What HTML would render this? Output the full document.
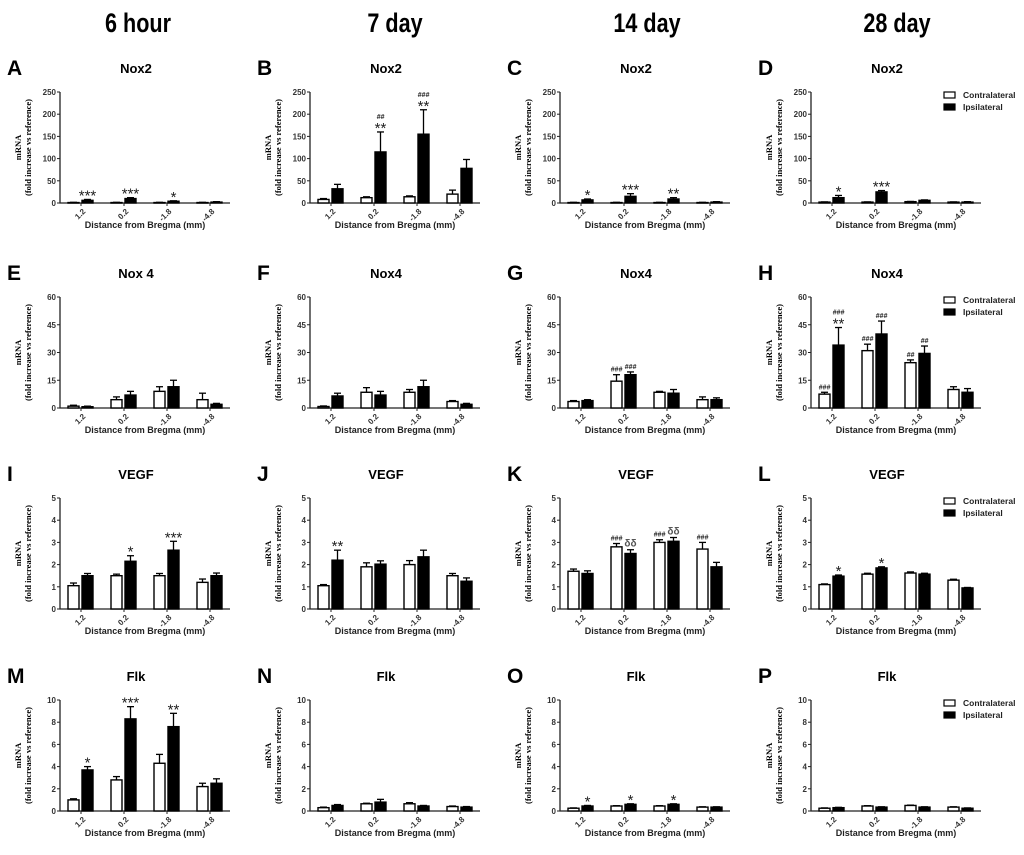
<!DOCTYPE html>
<html><head><meta charset="utf-8">
<style>
html,body{margin:0;padding:0;background:#fff;}
svg{display:block;}
text{font-family:"Liberation Sans",sans-serif;}
</style></head>
<body>
<svg id="fig" width="1024" height="855" viewBox="0 0 1024 855" xmlns="http://www.w3.org/2000/svg"></svg>
<script>
// ---- data ----
const categories = ["1.2","0.2","-1.8","-4.8"];
const columnHeaders = ["6 hour","7 day","14 day","28 day"];
const nox2Ticks = [0,50,100,150,200,250];
const nox4Ticks = [0,15,30,45,60];
const vegfTicks = [0,1,2,3,4,5];
const flkTicks = [0,2,4,6,8,10];

const aContra = [1,1,1,1];        const aContraErr = [0.5,0.5,0.5,0.5];
const aIpsi = [6,10,4,2];         const aIpsiErr = [2,2,1,1];
const bContra = [8,12,14,20];     const bContraErr = [2,2,2,9];
const bIpsi = [32,115,155,78];    const bIpsiErr = [10,45,55,20];
const cContra = [1,1,1,1];        const cContraErr = [0.5,0.5,0.5,0.5];
const cIpsi = [7,15,9,2];         const cIpsiErr = [2,6,3,1];
const dContra = [2,2,3,2];        const dContraErr = [0.5,0.5,0.5,0.5];
const dIpsi = [12,25,6,2];        const dIpsiErr = [5,3,1,1];

const eContra = [1,4.5,9,4.5];    const eContraErr = [0.5,1.5,2.5,3.5];
const eIpsi = [0.7,7,11.5,2];     const eIpsiErr = [0.3,2,3.5,0.5];
const fContra = [0.8,8.5,8.5,3.5];const fContraErr = [0.3,2.5,1.5,0.5];
const fIpsi = [6.5,7,11.5,2];     const fIpsiErr = [1.5,2,3.5,0.5];
const gContra = [3.5,14.5,8.5,4.5];const gContraErr = [0.5,3.5,0.5,1.5];
const gIpsi = [4,18,8,4.5];       const gIpsiErr = [0.5,1.5,2,1];
const hContra = [7.5,31,24.5,10]; const hContraErr = [1,3.5,1.5,1.5];
const hIpsi = [34,40,29.5,8.5];   const hIpsiErr = [9.5,7,4,2];

const iContra = [1.05,1.5,1.5,1.2];  const iContraErr = [0.12,0.07,0.1,0.15];
const iIpsi = [1.5,2.15,2.65,1.5];   const iIpsiErr = [0.1,0.25,0.4,0.12];
const jContra = [1.05,1.9,2.0,1.5];  const jContraErr = [0.05,0.18,0.18,0.1];
const jIpsi = [2.2,2.02,2.35,1.25];  const jIpsiErr = [0.45,0.15,0.3,0.15];
const kContra = [1.7,2.8,3.0,2.7];   const kContraErr = [0.1,0.15,0.12,0.3];
const kIpsi = [1.6,2.5,3.05,1.9];    const kIpsiErr = [0.12,0.17,0.17,0.2];
const lContra = [1.1,1.57,1.62,1.3]; const lContraErr = [0.03,0.04,0.05,0.04];
const lIpsi = [1.48,1.85,1.57,0.95]; const lIpsiErr = [0.05,0.05,0.04,0.02];

const mContra = [1.0,2.8,4.3,2.2];   const mContraErr = [0.1,0.3,0.8,0.3];
const mIpsi = [3.7,8.3,7.6,2.5];     const mIpsiErr = [0.3,1.1,1.2,0.4];
const nContra = [0.3,0.65,0.65,0.4]; const nContraErr = [0.05,0.05,0.1,0.05];
const nIpsi = [0.5,0.8,0.45,0.35];   const nIpsiErr = [0.08,0.25,0.05,0.05];
const oContra = [0.25,0.45,0.45,0.35];const oContraErr = [0.03,0.03,0.03,0.03];
const oIpsi = [0.45,0.6,0.6,0.35];   const oIpsiErr = [0.05,0.05,0.05,0.03];
const pContra = [0.25,0.45,0.5,0.35];const pContraErr = [0.03,0.03,0.03,0.03];
const pIpsi = [0.3,0.35,0.35,0.25];  const pIpsiErr = [0.03,0.03,0.03,0.03];

// annotations: [group, series(0 contra,1 ipsi), label lines bottom-first]
const aNotes = [[0,1,["***"]],[1,1,["***"]],[2,1,["*"]]];
const bNotes = [[1,1,["**","##"]],[2,1,["**","###"]]];
const cNotes = [[0,1,["*"]],[1,1,["***"]],[2,1,["**"]]];
const dNotes = [[0,1,["*"]],[1,1,["***"]]];
const gNotes = [[1,0,["###"]],[1,1,["###"]]];
const hNotes = [[0,0,["###"]],[0,1,["**","###"]],[1,0,["###"]],[1,1,["###"]],[2,0,["##"]],[2,1,["##"]]];
const iNotes = [[1,1,["*"]],[2,1,["***"]]];
const jNotes = [[0,1,["**"]]];
const kNotes = [[1,0,["###"]],[1,1,["δδ"]],[2,0,["###"]],[2,1,["δδ"]],[3,0,["###"]]];
const lNotes = [[0,1,["*"]],[1,1,["*"]]];
const mNotes = [[0,1,["*"]],[1,1,["***"]],[2,1,["**"]]];
const oNotes = [[0,1,["*"]],[1,1,["*"]],[2,1,["*"]]];

const panels = [
 ["A","Nox2",nox2Ticks,aContra,aContraErr,aIpsi,aIpsiErr,aNotes],
 ["B","Nox2",nox2Ticks,bContra,bContraErr,bIpsi,bIpsiErr,bNotes],
 ["C","Nox2",nox2Ticks,cContra,cContraErr,cIpsi,cIpsiErr,cNotes],
 ["D","Nox2",nox2Ticks,dContra,dContraErr,dIpsi,dIpsiErr,dNotes],
 ["E","Nox 4",nox4Ticks,eContra,eContraErr,eIpsi,eIpsiErr,[]],
 ["F","Nox4",nox4Ticks,fContra,fContraErr,fIpsi,fIpsiErr,[]],
 ["G","Nox4",nox4Ticks,gContra,gContraErr,gIpsi,gIpsiErr,gNotes],
 ["H","Nox4",nox4Ticks,hContra,hContraErr,hIpsi,hIpsiErr,hNotes],
 ["I","VEGF",vegfTicks,iContra,iContraErr,iIpsi,iIpsiErr,iNotes],
 ["J","VEGF",vegfTicks,jContra,jContraErr,jIpsi,jIpsiErr,jNotes],
 ["K","VEGF",vegfTicks,kContra,kContraErr,kIpsi,kIpsiErr,kNotes],
 ["L","VEGF",vegfTicks,lContra,lContraErr,lIpsi,lIpsiErr,lNotes],
 ["M","Flk",flkTicks,mContra,mContraErr,mIpsi,mIpsiErr,mNotes],
 ["N","Flk",flkTicks,nContra,nContraErr,nIpsi,nIpsiErr,[]],
 ["O","Flk",flkTicks,oContra,oContraErr,oIpsi,oIpsiErr,oNotes],
 ["P","Flk",flkTicks,pContra,pContraErr,pIpsi,pIpsiErr,[]]
];

// ---- layout ----
const NS = "http://www.w3.org/2000/svg";
const svg = document.getElementById("fig");
const colX = [60,310,560,811];
const rowTop = [92,297,498,700];
const plotH = 111, plotW = 170;
const headerX = [138,395,647,897];

function mk(tag, attrs, parent, txt){
  const e = document.createElementNS(NS, tag);
  for (const k in attrs) e.setAttribute(k, attrs[k]);
  if (txt !== undefined) e.textContent = txt;
  (parent||svg).appendChild(e);
  return e;
}

columnHeaders.forEach((h,i)=>{
  const t = mk("text",{transform:`translate(${headerX[i]},32) scale(0.8,1)`,"text-anchor":"middle","font-size":27,"font-weight":"bold"},svg,h);
  
  
});

panels.forEach((p,idx)=>{
  const [letter,title,ticks,cv,ce,iv,ie,notes] = p;
  const col = idx%4, row = Math.floor(idx/4);
  const x0 = colX[col], yTop = rowTop[row], y0 = yTop+plotH;
  const ymax = ticks[ticks.length-1];
  const ys = v => y0 - v/ymax*plotH;
  const gx = g => x0 + 8 + g*43;
  const g = mk("g",{});
  
  

  const lt = mk("text",{x:x0-53,y:yTop-17,"font-size":21,"font-weight":"bold"},g,letter);
  
  
  const tt = mk("text",{x:x0+76,y:yTop-19,"font-size":13,"font-weight":"bold","text-anchor":"middle"},g,title);
  
  

  const cy = yTop + plotH/2;
  const yl = mk("text",{transform:`translate(${x0-39},${cy}) rotate(-90)`,"text-anchor":"middle","font-size":8.5,"font-weight":"bold",style:'font-family:"Liberation Serif",serif'},g);
  
  
  mk("tspan",{x:0,dy:0},yl,"mRNA");
  mk("tspan",{x:0,dy:10},yl,"(fold increase vs reference)");

  const ax = mk("path",{d:`M${x0},${yTop} V${y0} H${x0+plotW}`,stroke:"#222","stroke-width":1.3,fill:"none"},g);
  
  
  ticks.forEach(t=>{
    mk("line",{x1:x0-3,x2:x0,y1:ys(t),y2:ys(t),stroke:"#222","stroke-width":1},g);
    const tl = mk("text",{x:x0-4,y:ys(t)+3,"font-size":8,"font-weight":"bold","text-anchor":"end",fill:"#333"},g,String(t));
    
    
  });
  categories.forEach((c,gi)=>{
    const cxl = gx(gi)+13;
    mk("line",{x1:cxl,x2:cxl,y1:y0,y2:y0+3,stroke:"#222","stroke-width":1},g);
    const xl = mk("text",{transform:`translate(${cxl+5},${y0+9}) rotate(-45)`,"font-size":8,"font-weight":"bold","text-anchor":"end",fill:"#333"},g,c);
    
    
  });
  const xt = mk("text",{x:x0+85,y:y0+25,"font-size":9,"font-weight":"bold","text-anchor":"middle",fill:"#222"},g,"Distance from Bregma (mm)");
  
  

  [[cv,ce,"#fff",0],[iv,ie,"#000",1]].forEach(([vals,errs,fill,s])=>{
    vals.forEach((v,gi)=>{
      const bx = gx(gi) + s*14, bw = 11;
      const top = ys(v), et = ys(v+errs[gi]), mid = bx+bw/2;
      mk("line",{x1:mid,x2:mid,y1:top,y2:et,stroke:"#000","stroke-width":1.3},g);
      mk("line",{x1:mid-3.5,x2:mid+3.5,y1:et,y2:et,stroke:"#000","stroke-width":1.3},g);
      const r = mk("rect",{x:bx,y:top,width:bw,height:Math.max(y0-top,0.5),fill:fill,stroke:"#000","stroke-width":1.4},g);
      
      
    });
  });
  notes.forEach(([gi,s,lines])=>{
    const vals = s?iv:cv, errs = s?ie:ce;
    const mid = gx(gi)+s*14+5.5;
    let y = ys(vals[gi]+errs[gi]) - 3;
    lines.forEach(l=>{
      const isStar = l.indexOf("*")>=0, isD = l.indexOf("δ")>=0;
      const t = mk("text",{x:mid,y: isStar? y+4 : y,"text-anchor":"middle","font-size":isStar?15:(isD?10:7),"font-weight":isStar?"normal":"bold","font-style":isStar||isD?"normal":"italic",fill:isD?"#555":"#222"},g,l);
      
      
      y -= 10;
    });
  });
  if (col===3){
    const lg = mk("g",{},g);
    
    
    [["Contralateral","#fff"],["Ipsilateral","#000"]].forEach(([n,f],k)=>{
      const ly = yTop+3+k*12;
      mk("rect",{x:x0+133,y:ly-3,width:11,height:6,fill:f,stroke:"#000","stroke-width":1.2},lg);
      const lt2 = mk("text",{x:x0+152,y:ly+3,"font-size":8.5,"font-weight":"bold",fill:"#222"},lg,n);
      
      
    });
  }
});
</script>
</body></html>
